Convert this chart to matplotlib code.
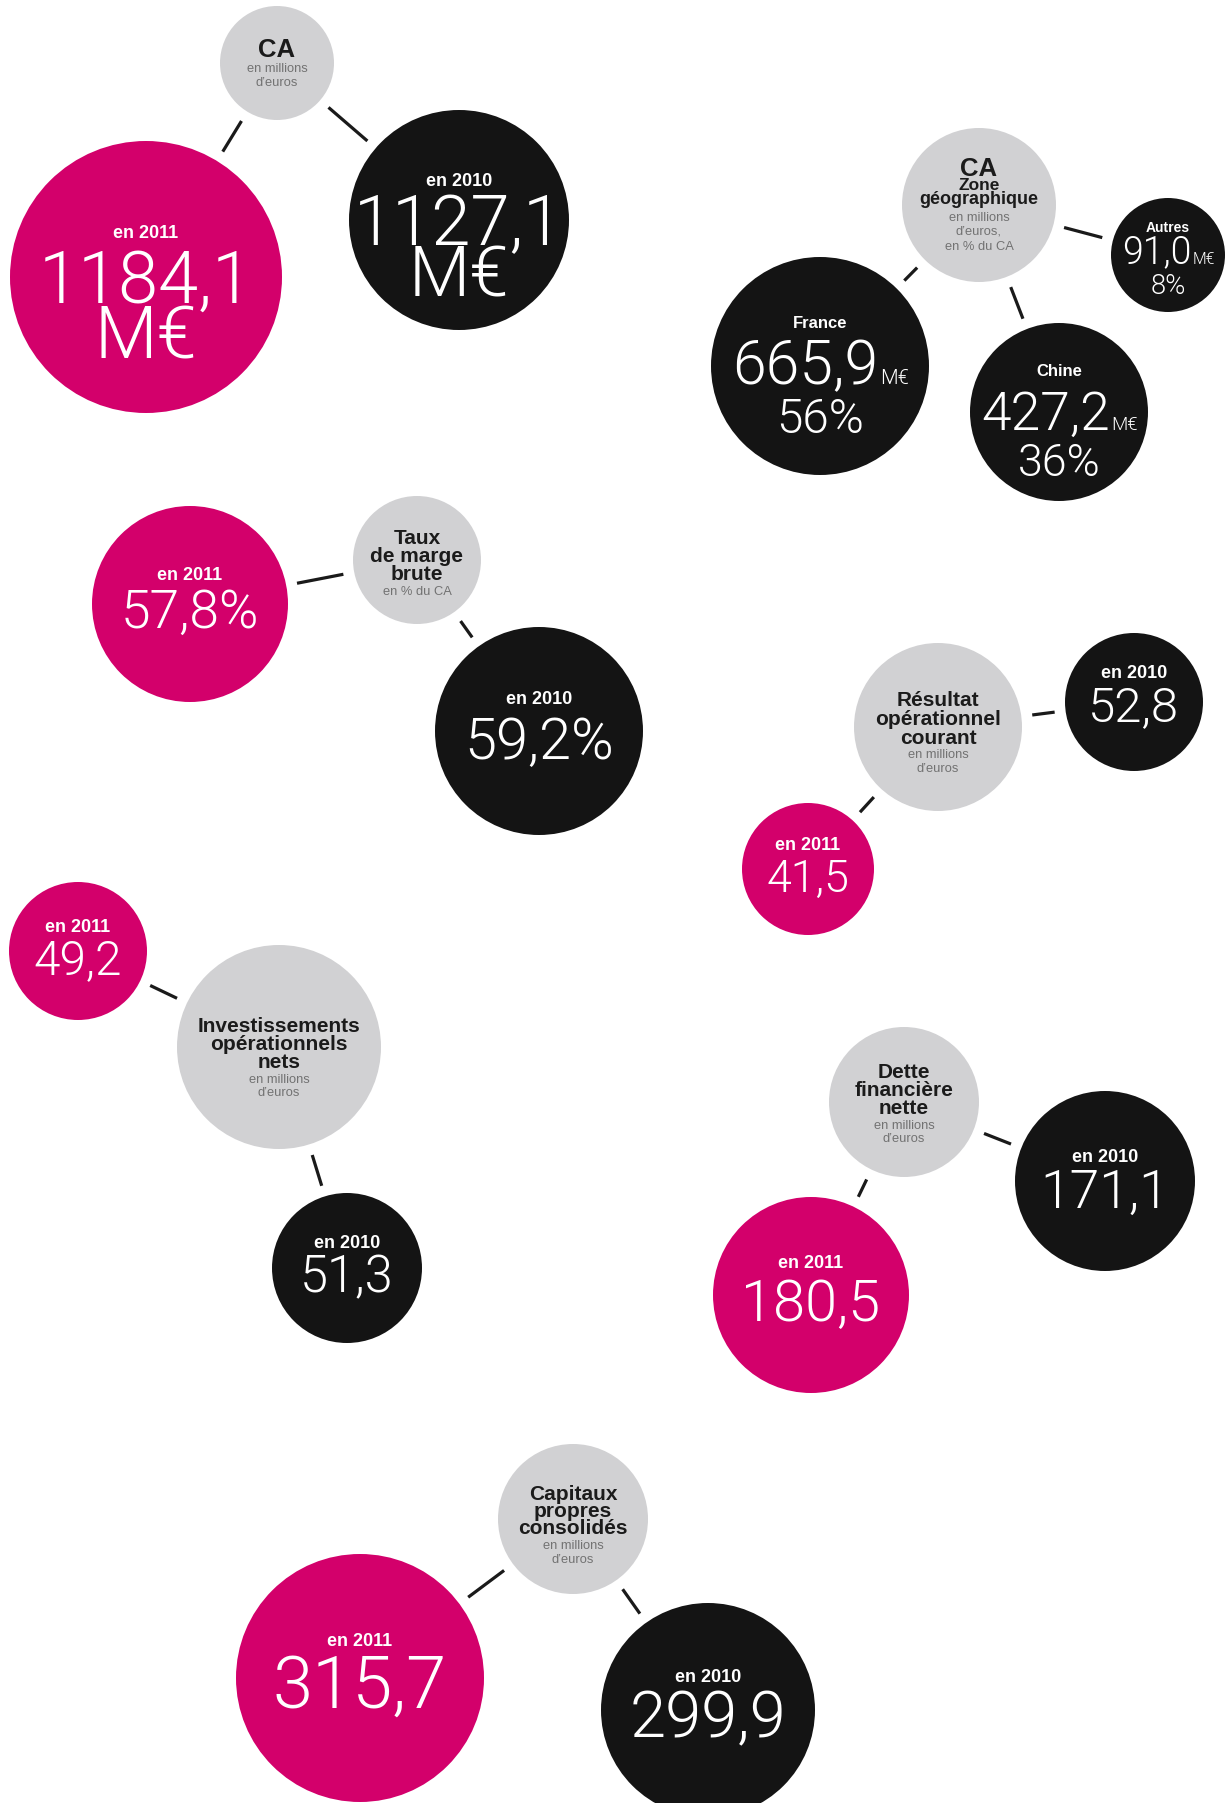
import math
import matplotlib
matplotlib.use("Agg")
import matplotlib.pyplot as plt
from matplotlib.patches import Circle
from matplotlib import font_manager as fm
import matplotlib.patheffects as pe

# ---------------- data ----------------
metric_titles = ["CA", "Taux\nde marge\nbrute", "Résultat\nopérationnel\ncourant",
                 "Investissements\nopérationnels\nnets", "Dette\nfinancière\nnette",
                 "Capitaux\npropres\nconsolidés"]
metric_units = ["en millions\nd’euros", "en % du CA", "en millions\nd’euros",
                "en millions\nd’euros", "en millions\nd’euros", "en millions\nd’euros"]
values_2011 = [1184.1, 57.8, 41.5, 49.2, 180.5, 315.7]
values_2010 = [1127.1, 59.2, 52.8, 51.3, 171.1, 299.9]
value_units = ["M€", "%", "", "", "", ""]
year_labels = ["en 2011", "en 2010"]

zone_title = "CA\nZone\ngéographique"
zone_units = "en millions\nd’euros,\nen % du CA"
zone_names = ["France", "Chine", "Autres"]
zone_values = [665.9, 427.2, 91.0]
zone_shares = [56, 36, 8]
zone_unit = "M€"

# ---------------- styles / layout ----------------
PINK = "#D3006B"
BLACK = "#141414"
GREY = "#D1D1D3"
TITLE_C = "#1b1b1b"
UNIT_C = "#727272"
BOLD = ["Liberation Sans", "DejaVu Sans"]

# find a light-weight sans face for the big numbers
LIGHT_FILE = None
for pref in ("Roboto", "Roboto Light", "Open Sans", "Open Sans Light", "Lato", "Lato Light"):
    for f in fm.fontManager.ttflist:
        if f.name == pref and f.style == "normal" and str(f.weight) in ("300", "light"):
            LIGHT_FILE = f.fname
            break
    if LIGHT_FILE:
        break
THICKEN = None
if LIGHT_FILE is None:
    THICKEN = 1.4
NUM_SCALE = 1.04


def light_props(size):
    if LIGHT_FILE:
        return fm.FontProperties(fname=LIGHT_FILE, size=size)
    return fm.FontProperties(family=["Roboto", "DejaVu Sans"], weight="light", size=size)


# grey (x, y, r), title first line y, title step, title size, unit first y, unit step
grey_layout = [
    ((277, 63, 57), 48, 18, 18.5, 67, 14),
    ((417, 560, 64), 537, 18, 15, 590, 14),
    ((938, 727, 84), 699, 18.5, 15, 753, 14),
    ((279, 1047, 102), 1024, 18, 15, 1078, 13.5),
    ((904, 1102, 75), 1070, 18, 15, 1124, 13.5),
    ((573, 1519, 75), 1492, 17.5, 15, 1544, 14),
]
# value circles: (x, y, r), year y, value last line y, value size, line spacing
pink_layout = [
    ((146, 277, 136), 231, 333, 50, 0.76),
    ((190, 604, 98), 573, 609, 37, 1.0),
    ((808, 869, 66), 844, 876, 31, 1.0),
    ((78, 951, 69), 925, 957, 33, 1.0),
    ((811, 1295, 98), 1262, 1300, 40, 1.0),
    ((360, 1678, 124), 1639, 1682, 50, 1.0),
]
black_layout = [
    ((459, 220, 110), 179, 271, 49, 0.70),
    ((539, 731, 104), 698, 738, 40, 1.0),
    ((1134, 702, 69), 672, 704, 34, 1.0),
    ((347, 1268, 75), 1241, 1274, 35, 1.0),
    ((1105, 1181, 90), 1156, 1189, 37, 1.0),
    ((708, 1710, 107), 1676, 1714, 45, 1.0),
]
zone_grey = ((979, 205, 77), [167, 184, 198], [18.5, 12.5, 13], [216, 230, 245])
# (x, y, r), name y, name size, value y, value size, unit size, share y, share size
zone_layout = [
    ((820, 366, 109), 322, 12, 368, 42, 14, 411, 33),
    ((1059, 412, 89), 370, 12, 416, 37, 13, 455, 31),
    ((1168, 255, 57), 227, 10, 253, 26, 11, 281, 19),
]
YEAR_SIZE = 13
UNIT_SIZE = 9.3
GAP = 11
LW = 2.3

W, H = 1227, 1803
fig = plt.figure(figsize=(W / 100, H / 100), dpi=100)
ax = fig.add_axes([0, 0, 1, 1])
ax.set_xlim(0, W)
ax.set_ylim(H, 0)
ax.set_aspect("equal")
ax.axis("off")
renderer = fig.canvas.get_renderer()


def fmt(v):
    return f"{v:.1f}".replace(".", ",")


def txt(x, yc, s, size, weight="bold", color="white", ha="center"):
    # yc: visual centre of the capitals; baseline placed below it
    return ax.text(x, yc + 0.36 * size * 100 / 72, s, fontsize=size, fontweight=weight,
                   color=color, family=BOLD, ha=ha, va="baseline")


def num(x, yc, s, size, color="white", ha="center", ls=1.0):
    # light numbers; yc is the centre of the last line's digits
    size = size * NUM_SCALE
    t = ax.text(x, yc + 0.355 * size * 100 / 72, s, fontproperties=light_props(size),
                color=color, ha=ha, va="baseline", linespacing=ls, multialignment="center")
    if THICKEN:
        t.set_path_effects([pe.withStroke(linewidth=THICKEN, foreground=color)])
    return t


def circle(c, color):
    ax.add_patch(Circle((c[0], c[1]), c[2], facecolor=color, edgecolor="none", zorder=1))


def connect(a, b):
    dx, dy = b[0] - a[0], b[1] - a[1]
    d = math.hypot(dx, dy)
    ux, uy = dx / d, dy / d
    s = a[2] + GAP
    e = d - b[2] - GAP
    ax.plot([a[0] + ux * s, a[0] + ux * e], [a[1] + uy * s, a[1] + uy * e],
            color="#1a1a1a", lw=LW, solid_capstyle="butt", zorder=0)


def bbox(t):
    return t.get_window_extent(renderer)


# metrics
for i in range(len(metric_titles)):
    g, ty, tstep, tsize, uy, ustep = grey_layout[i]
    circle(g, GREY)
    for k, line in enumerate(metric_titles[i].split("\n")):
        txt(g[0], ty + k * tstep, line, tsize, color=TITLE_C)
    for k, line in enumerate(metric_units[i].split("\n")):
        txt(g[0], uy + k * ustep, line, UNIT_SIZE, weight="normal", color=UNIT_C)
    for layout, vals, col, yl in ((pink_layout[i], values_2011, PINK, year_labels[0]),
                                  (black_layout[i], values_2010, BLACK, year_labels[1])):
        c, yy, vy, vs, ls = layout
        circle(c, col)
        connect(g, c)
        txt(c[0], yy, yl, YEAR_SIZE)
        unit = value_units[i]
        if unit == "M€":
            label = fmt(vals[i]) + "\n" + unit
        else:
            label = fmt(vals[i]) + unit
        num(c[0], vy, label, vs, ls=ls)

# zones
g, tys, tss, uys = zone_grey
circle(g, GREY)
for line, y, s in zip(zone_title.split("\n"), tys, tss):
    txt(g[0], y, line, s, color=TITLE_C)
for line, y in zip(zone_units.split("\n"), uys):
    txt(g[0], y, line, UNIT_SIZE, weight="normal", color=UNIT_C)

for j in range(len(zone_names)):
    c, ny, ns, vy, vs, us, sy, ss = zone_layout[j]
    circle(c, BLACK)
    connect(g, c)
    txt(c[0], ny, zone_names[j], ns)
    t1 = num(0, vy, fmt(zone_values[j]), vs, ha="left")
    t2 = num(0, vy, zone_unit, us, ha="left")
    t2.set_y(t1.get_position()[1])
    t3 = num(c[0], sy, f"{zone_shares[j]}%", ss)
    w1 = bbox(t1).width
    w2 = bbox(t2).width
    x0 = c[0] - (w1 + w2) / 2
    t1.set_x(x0)
    t2.set_x(x0 + w1 + 1)
    # nudge the two stacked lines apart just enough that their boxes do not overlap
    ov = bbox(t1).y0 - bbox(t3).y1  # display coords: y grows upward
    if ov < 0:
        push = (-ov) / 2 + 0.5
        for t, sgn in ((t1, -1), (t2, -1), (t3, 1)):
            x, y = t.get_position()
            t.set_y(y + sgn * push)

fig.savefig("out.png", dpi=100, facecolor="white")
